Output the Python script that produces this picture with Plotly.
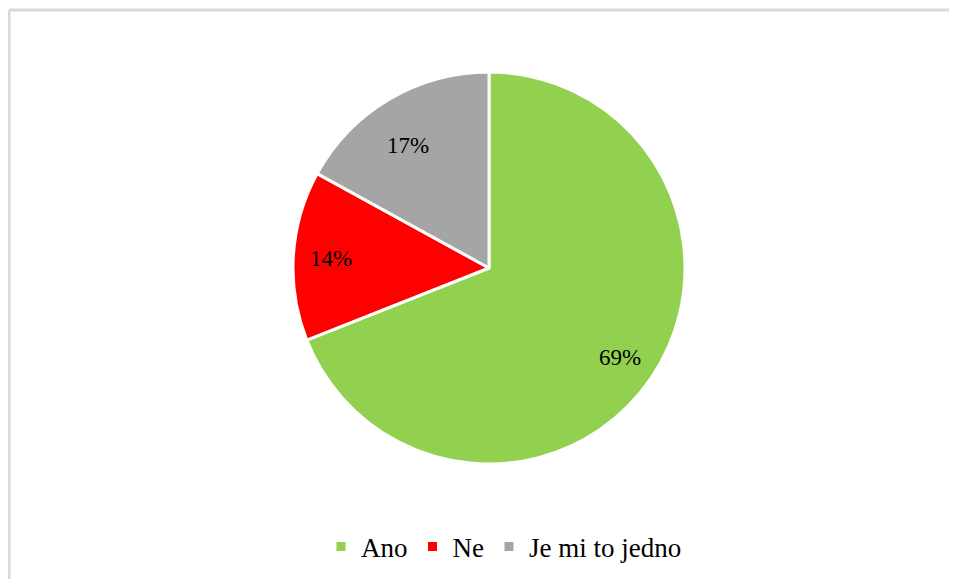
import math
import plotly.graph_objects as go

labels = ["Ano", "Ne", "Je mi to jedno"]
values = [69, 14, 17]
colors = ["#92D050", "#FF0000", "#A5A5A5"]

# page has an 8px body margin, so work in figure pixels
OFF = 8
W, H = 957 - OFF, 579 - OFF
cx, cy, r = 489 - OFF, 268 - OFF, 196
label_r = 0.81 * r

fig = go.Figure(go.Pie(
    labels=labels, values=values, sort=False, direction="clockwise", rotation=0,
    marker=dict(colors=colors, line=dict(color="white", width=3)),
    textinfo="none",
    domain=dict(x=[(cx - r) / W, (cx + r) / W], y=[(H - cy - r) / H, (H - cy + r) / H]),
    hoverinfo="label+percent",
))

# percentage labels placed Excel-style along each slice's mid angle
total = sum(values)
annotations = []
acc = 0
for v in values:
    mid = (acc + v / 2) / total * 2 * math.pi
    acc += v
    px = cx + label_r * math.sin(mid)
    py = cy - label_r * math.cos(mid)
    annotations.append(dict(
        x=px / W, y=(H - py) / H, xref="paper", yref="paper", showarrow=False,
        text=f"{round(v / total * 100)}%",
        font=dict(family="Liberation Serif", size=23, color="black"),
    ))

fig.update_layout(
    width=W, height=H,
    margin=dict(l=0, r=0, t=0, b=0),
    paper_bgcolor="white",
    font=dict(family="Liberation Serif", color="black"),
    showlegend=True,
    legend=dict(orientation="h", x=(504 - OFF) / W, xanchor="center", y=(H - (547 - OFF)) / H,
                yanchor="middle", font=dict(size=27), itemwidth=30, traceorder="normal"),
    annotations=annotations,
    shapes=[
        dict(type="line", xref="paper", yref="paper", x0=(9 - OFF) / W, x1=1,
             y0=(H - (10 - OFF)) / H, y1=(H - (10 - OFF)) / H,
             line=dict(color="#D9D9D9", width=3)),
        dict(type="line", xref="paper", yref="paper", x0=(9 - OFF) / W, x1=(9 - OFF) / W,
             y0=0, y1=(H - (10 - OFF)) / H,
             line=dict(color="#D9D9D9", width=3)),
    ],
)

fig.write_html("out.html")
